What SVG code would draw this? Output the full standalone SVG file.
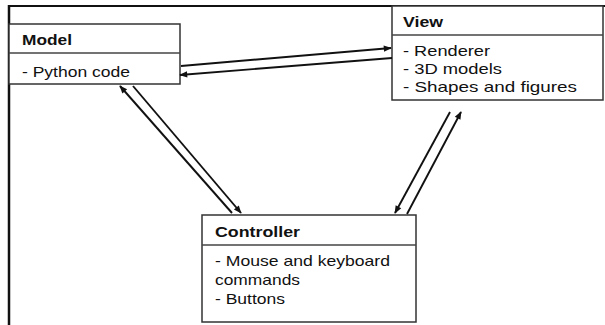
<svg xmlns="http://www.w3.org/2000/svg" width="605" height="325" viewBox="0 0 605 325">
<style>
.box{fill:#fff;stroke:#333;stroke-width:1.5}
.div{stroke:#444;stroke-width:1.5}
.t{font-family:"Liberation Sans",Arial,sans-serif;font-size:14.5px;fill:#111}
.b{font-weight:bold}
.c{stroke:#111;stroke-width:1.9;fill:none;marker-end:url(#ah)}
</style>
<defs>
<marker id="ah" viewBox="0 0 10 10" refX="9" refY="5" markerWidth="9" markerHeight="8" markerUnits="userSpaceOnUse" orient="auto">
<path d="M0,1 L10,5 L0,9 z" fill="#111"/>
</marker>
</defs>
<rect width="605" height="325" fill="#fff"/>
<g id="frame">
<line x1="8" y1="6" x2="605" y2="6" stroke="#111" stroke-width="2.2"/>
<line x1="9" y1="5" x2="9" y2="325" stroke="#111" stroke-width="2.5"/>
</g>
<g id="model">
<rect class="box" x="9" y="24" width="171" height="60"/>
<line class="div" x1="9" y1="53" x2="180" y2="53"/>
<text class="t b" x="22" y="45" textLength="50" lengthAdjust="spacingAndGlyphs">Model</text>
<text class="t" x="22" y="77" textLength="108" lengthAdjust="spacingAndGlyphs">- Python code</text>
</g>
<g id="view">
<rect class="box" x="392" y="6" width="211" height="94"/>
<line class="div" x1="392" y1="35" x2="603" y2="35"/>
<text class="t b" x="403" y="27" textLength="40" lengthAdjust="spacingAndGlyphs">View</text>
<text class="t" x="403" y="56" textLength="87" lengthAdjust="spacingAndGlyphs">- Renderer</text>
<text class="t" x="403" y="74" textLength="99" lengthAdjust="spacingAndGlyphs">- 3D models</text>
<text class="t" x="403" y="92" textLength="174" lengthAdjust="spacingAndGlyphs">- Shapes and figures</text>
</g>
<g id="controller">
<rect class="box" x="202" y="215" width="214" height="107"/>
<line class="div" x1="202" y1="245" x2="416" y2="245"/>
<text class="t b" x="215" y="237" textLength="85" lengthAdjust="spacingAndGlyphs">Controller</text>
<text class="t" x="215" y="266" textLength="175" lengthAdjust="spacingAndGlyphs">- Mouse and keyboard</text>
<text class="t" x="215" y="285" textLength="85" lengthAdjust="spacingAndGlyphs">commands</text>
<text class="t" x="215" y="304" textLength="70" lengthAdjust="spacingAndGlyphs">- Buttons</text>
</g>
<g id="connectors">
<line class="c" x1="181" y1="66" x2="391" y2="48"/>
<line class="c" x1="392" y1="58" x2="180" y2="75"/>
<line class="c" x1="232" y1="213" x2="120" y2="86"/>
<line class="c" x1="133" y1="86" x2="241" y2="213"/>
<line class="c" x1="450" y1="112" x2="395" y2="213"/>
<line class="c" x1="407" y1="214" x2="461" y2="112"/>
</g>
</svg>
